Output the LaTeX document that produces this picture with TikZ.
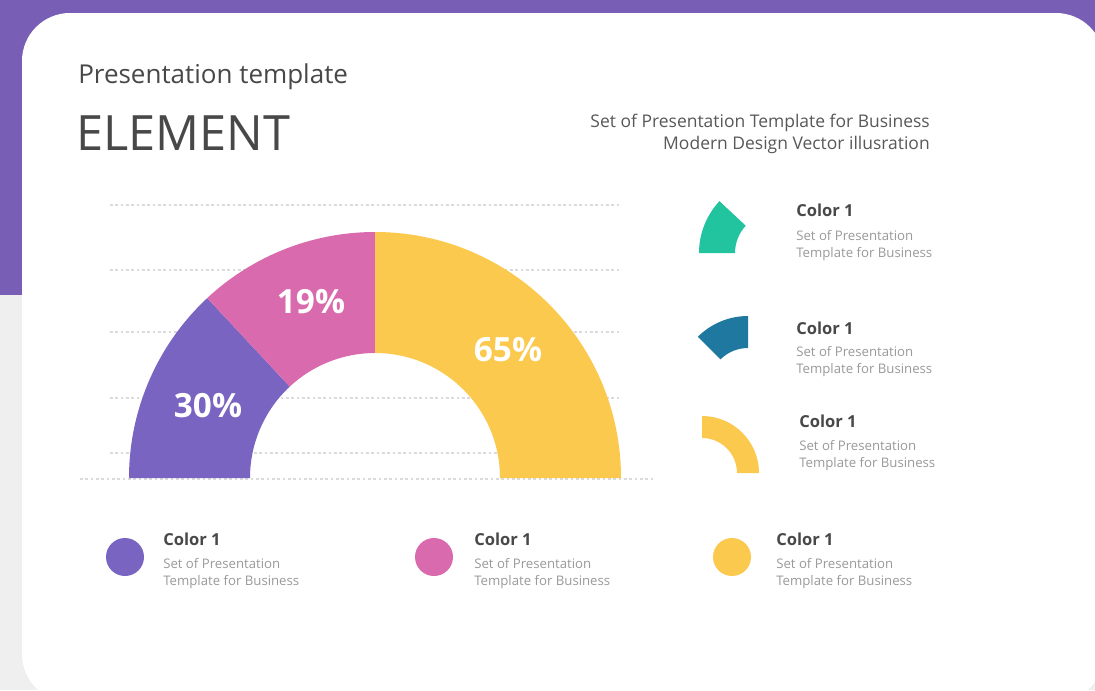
\documentclass[tikz,border=0pt]{standalone}
\usepackage{fontspec}
\setmainfont{Open Sans}
\definecolor{bgpurple}{HTML}{785EB4}
\definecolor{bggray}{HTML}{EFEFEF}
\definecolor{cpurple}{HTML}{7A64C2}
\definecolor{cpink}{HTML}{D86AAD}
\definecolor{cyellow}{HTML}{FCC94F}
\definecolor{cteal}{HTML}{22C4A0}
\definecolor{cblue}{HTML}{1F78A0}
\definecolor{tdark}{HTML}{484848}
\definecolor{tmid}{HTML}{585858}
\definecolor{tsoft}{HTML}{9A9A9A}
\definecolor{gridc}{HTML}{DADADA}
\newcommand{\annsec}[7]{\fill[#1] ([shift={(#4:#6)}]#2,#3) arc[start angle=#4,end angle=#5,radius=#6] -- ([shift={(#5:#7)}]#2,#3) arc[start angle=#5,end angle=#4,radius=#7] -- cycle;}
\tikzset{
  gridline/.style={gridc, line width=0.8pt, dash pattern=on 2pt off 2pt},
  pct/.style={text=white, font=\fontsize{25}{26}\selectfont\bfseries, inner sep=0pt},
  colhead/.style={text=tdark, font=\fontsize{12.4}{14}\selectfont\bfseries, anchor=base west, inner sep=0pt},
  coltext/.style={text=tsoft, font=\fontsize{9.9}{12.2}\selectfont, anchor=base west, inner sep=0pt, align=left},
  dot/.style={circle, inner sep=0pt, minimum size=28.5pt}
}
\begin{document}
\begin{tikzpicture}[x=0.75pt,y=-0.75pt]
\useasboundingbox (0,0) rectangle (1095,690);
% background
\fill[bggray] (0,0) rectangle (1095,690);
\fill[bgpurple] (0,0) rectangle (1095,295);
% card
\fill[white, rounded corners=36pt] (22,13) rectangle (1104,702);
% header
\node[anchor=base west, inner sep=0pt, text=tdark, font=\fontsize{19.5}{20}\selectfont] (sub) at (78,83) {Presentation template};
\node[anchor=base west, inner sep=0pt, text=tdark, font=\fontsize{36.5}{40}\selectfont] (title) at (76,150) {ELEMENT};
\node[anchor=base east, inner sep=0pt, text=tmid, font=\fontsize{13.1}{15.8}\selectfont, align=right] (desc) at (930,149) {Set of Presentation Template for Business\\Modern Design Vector illusration};
% grid lines
\foreach \yy in {205,270,332,398,453} \draw[gridline] (110,\yy) -- (622,\yy);
\draw[gridline] (80,479) -- (655,479);
% half donut chart
\annsec{cpurple}{375}{478}{-180}{-133}{246}{125}
\annsec{cpink}{375}{478}{-133}{-90}{246}{125}
\annsec{cyellow}{375}{478}{-90}{0}{246}{125}
\node[pct] (p30) at (208,406) {30\%};
\node[pct] (p19) at (311,302) {19\%};
\node[pct] (p65) at (508,350) {65\%};
% right legend shapes
\annsec{cteal}{775}{253}{-180}{-137}{76}{40}
\annsec{cblue}{748}{387}{-135}{-90}{71}{39}
\annsec{cyellow}{702}{473}{-90}{0}{57}{35}
% right legend texts
\node[colhead] (r1h) at (796,216) {Color 1};
\node[coltext] (r1t) at (796,257) {Set of Presentation\\Template for Business};
\node[colhead] (r2h) at (796,334) {Color 1};
\node[coltext] (r2t) at (796,373) {Set of Presentation\\Template for Business};
\node[colhead] (r3h) at (799,427) {Color 1};
\node[coltext] (r3t) at (799,467) {Set of Presentation\\Template for Business};
% bottom legend
\node[dot, fill=cpurple] (d1) at (125,557) {};
\node[dot, fill=cpink] (d2) at (434,557) {};
\node[dot, fill=cyellow] (d3) at (732,557) {};
\node[colhead] (b1h) at (163,545) {Color 1};
\node[coltext] (b1t) at (163,585) {Set of Presentation\\Template for Business};
\node[colhead] (b2h) at (474,545) {Color 1};
\node[coltext] (b2t) at (474,585) {Set of Presentation\\Template for Business};
\node[colhead] (b3h) at (776,545) {Color 1};
\node[coltext] (b3t) at (776,585) {Set of Presentation\\Template for Business};
\end{tikzpicture}
\end{document}
